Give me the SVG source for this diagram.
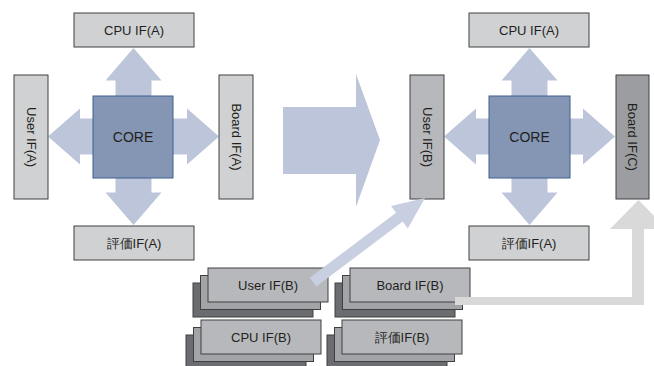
<svg xmlns="http://www.w3.org/2000/svg" width="654" height="366" viewBox="0 0 654 366">
  <style>
    text { font-family: "Liberation Sans", Arial, sans-serif; font-size: 13px; fill: #231f20; text-anchor: middle; dominant-baseline: central; }
    .if { fill: #d0d1d3; stroke: #404040; stroke-width: 1; }
    .ifb { fill: #b7b8bb; stroke: #404040; stroke-width: 1; }
    .ifc { fill: #9c9da0; stroke: #404040; stroke-width: 1; }
    .mid { fill: #a3a4a7; stroke: #404040; stroke-width: 1; }
    .back { fill: #6b6c6f; stroke: #404040; stroke-width: 1; }
    .core { fill: #8496b4; stroke: #3e5f8f; stroke-width: 1; }
    .flow { fill: #bcc5d9; }
    .flow2 { fill: #c8cfe0; }
    .gray { fill: #d9d9d9; }
    .core-label { font-size: 14px; }
  </style>
  <defs>
    <!-- four-way arrow around a core block, centred on 0,0 -->
    <path id="cross" d="M0,-88.5 L28,-56 L18,-56 L18,-18 L53.5,-18 L53.5,-28 L85.5,0 L53.5,28 L53.5,18 L18,18 L18,56 L28,56 L0,88.5 L-28,56 L-18,56 L-18,18 L-53.5,18 L-53.5,28 L-85.5,0 L-53.5,-28 L-53.5,-18 L-18,-18 L-18,-56 L-28,-56 Z"/>
  </defs>

  <!-- arrows between cores and interfaces -->
  <g id="connectors-core">
    <use href="#cross" class="flow" transform="translate(133.5,136.5)"/>
    <use href="#cross" class="flow" transform="translate(529.5,136.5)"/>
    <!-- big transition arrow -->
    <path class="flow" d="M283,107 L356,107 L356,74 L380,140 L356,207 L356,174 L283,174 Z"/>
  </g>

  <!-- left configuration -->
  <g id="cpu-if-a-left">
    <rect class="if" x="74" y="13" width="120" height="34"/>
    <text x="134" y="30">CPU IF(A)</text>
  </g>
  <g id="user-if-a">
    <rect class="if" x="14" y="75" width="34" height="124"/>
    <text transform="translate(31,137) rotate(90)">User IF(A)</text>
  </g>
  <g id="board-if-a">
    <rect class="if" x="219" y="75" width="34" height="124"/>
    <text transform="translate(236,137) rotate(90)">Board IF(A)</text>
  </g>
  <g id="eval-if-a-left">
    <rect class="if" x="74" y="226" width="120" height="34"/>
    <text x="134" y="243">評価IF(A)</text>
  </g>
  <g id="core-left">
    <rect class="core" x="93" y="96" width="80" height="82"/>
    <text class="core-label" x="133" y="137">CORE</text>
  </g>

  <!-- right configuration -->
  <g id="cpu-if-a-right">
    <rect class="if" x="469" y="13" width="120" height="34"/>
    <text x="529" y="30">CPU IF(A)</text>
  </g>
  <g id="user-if-b-slot">
    <rect class="ifb" x="410" y="75" width="34" height="124"/>
    <text transform="translate(427,137) rotate(90)">User IF(B)</text>
  </g>
  <g id="board-if-c">
    <rect class="ifc" x="616" y="75" width="33" height="124"/>
    <text transform="translate(632.5,137) rotate(90)">Board IF(C)</text>
  </g>
  <g id="eval-if-a-right">
    <rect class="if" x="469" y="226" width="120" height="34"/>
    <text x="529" y="243">評価IF(A)</text>
  </g>
  <g id="core-right">
    <rect class="core" x="489" y="96" width="81" height="82"/>
    <text class="core-label" x="529.5" y="137">CORE</text>
  </g>

  <!-- interface libraries (stacked variants) -->
  <g id="user-if-b-stack">
    <rect class="back" x="193" y="283" width="120" height="34"/>
    <rect class="mid" x="200.5" y="275.5" width="120" height="34"/>
    <rect class="ifb" x="208" y="268" width="120" height="34"/>
    <text x="268" y="285">User IF(B)</text>
  </g>
  <g id="board-if-b-stack">
    <rect class="back" x="335" y="283" width="120" height="34"/>
    <rect class="mid" x="342.5" y="275.5" width="120" height="34"/>
    <rect class="ifb" x="350" y="268" width="120" height="34"/>
    <text x="410" y="285">Board IF(B)</text>
  </g>
  <g id="cpu-if-b-stack">
    <rect class="back" x="186" y="335" width="120" height="34"/>
    <rect class="mid" x="193.5" y="327.5" width="120" height="34"/>
    <rect class="ifb" x="201" y="320" width="120" height="34"/>
    <text x="261" y="337">CPU IF(B)</text>
  </g>
  <g id="eval-if-b-stack">
    <rect class="back" x="327" y="335" width="120" height="34"/>
    <rect class="mid" x="334.5" y="327.5" width="120" height="34"/>
    <rect class="ifb" x="342" y="320" width="120" height="34"/>
    <text x="402" y="337">評価IF(B)</text>
  </g>

  <!-- arrows from the libraries into the new configuration -->
  <g id="connectors-transfer">
    <path class="flow2" transform="translate(425,198) rotate(-36.9)" d="M-140,-5.5 L-32,-5.5 L-32,-14 L0,0 L-32,14 L-32,5.5 L-140,5.5 Z"/>
    <path class="gray" d="M455,297 L632,297 L632,229 L610,229 L638.5,200 L667,229 L644,229 L644,305 L455,305 Z"/>
  </g>
</svg>
